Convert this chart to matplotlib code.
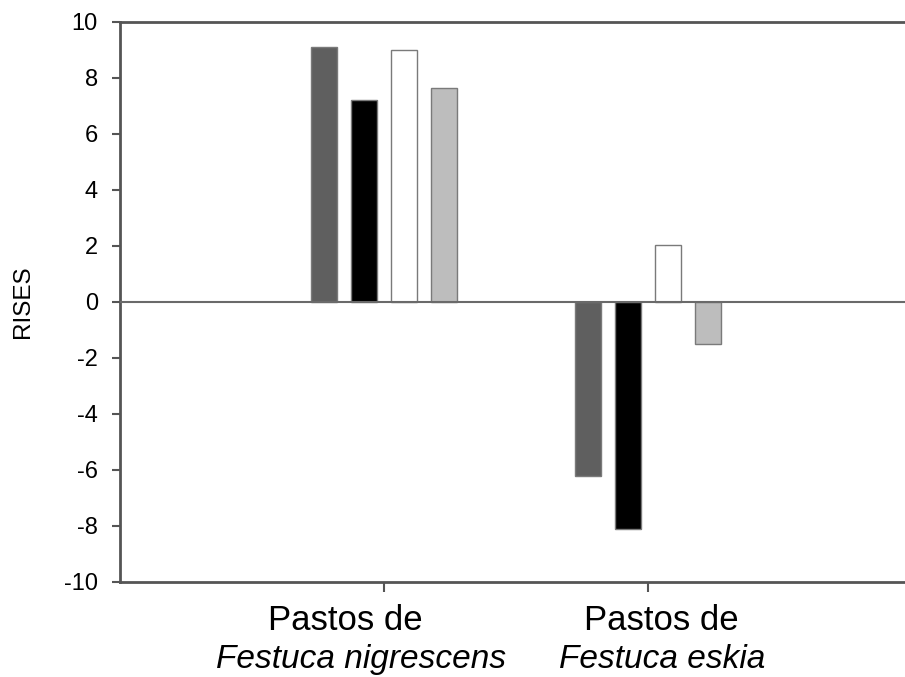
"""Bar chart of RISES for the two Festuca pasture types."""
import matplotlib
matplotlib.use("Agg")
import matplotlib.pyplot as plt
import matplotlib.transforms as mtransforms
import numpy as np

plt.rcParams["font.family"] = ["Liberation Sans", "DejaVu Sans"]
plt.rcParams["axes.unicode_minus"] = False

# Data
groups = ["Festuca nigrescens", "Festuca eskia"]
series_colors = ["#5f5f5f", "#000000", "#ffffff", "#bdbdbd"]
values = [
    [9.12, 7.21, 9.0, 7.65],    # Pastos de Festuca nigrescens
    [-6.2, -8.1, 2.02, -1.5],   # Pastos de Festuca eskia
]
yticks = list(range(-10, 11, 2))

fig = plt.figure(figsize=(9.05, 6.77), dpi=100)
# axes runs a bit past the right edge of the picture, as in the reference
ax = fig.add_axes([120 / 905, 95 / 677, 792 / 905, 560 / 677])

centers = np.array([1.0, 2.0])
bar_w = 0.095
step = 0.1515
offsets = (np.arange(4) - 1.5) * step

for i, col in enumerate(series_colors):
    vals = [v[i] for v in values]
    ax.bar(centers + offsets[i], vals, width=bar_w, color=col,
           edgecolor="#7a7a7a", linewidth=1.0, zorder=2)

ax.axhline(0, color="#6a6a6a", linewidth=1.5, zorder=3)

ax.set_xlim(0, 3)
ax.set_ylim(-10, 10)
ax.set_yticks(yticks)
ax.set_xticks(centers)
ax.set_xticklabels(["", ""])

for side in ["left", "bottom", "top"]:
    ax.spines[side].set_color("#555555")
    ax.spines[side].set_linewidth(2.0)
ax.spines["right"].set_visible(False)

ax.tick_params(axis="y", direction="out", length=6, width=1.5, color="#555555",
               labelsize=17, pad=10)
ax.tick_params(axis="x", direction="out", length=7, width=1.5, color="#555555")

# category labels: the reference places them slightly off the tick centres
trans = mtransforms.blended_transform_factory(ax.transData, ax.transAxes)
label_shift = [(-0.148, -0.088), (0.05, 0.053)]
for c, name, (d1, d2) in zip(centers, groups, label_shift):
    ax.text(c + d1, -0.0857, "Pastos de", transform=trans, ha="center",
            va="baseline", fontsize=25)
    ax.text(c + d2, -0.1536, name, transform=trans, ha="center",
            va="baseline", fontsize=24, style="italic")

fig.text(23 / 905, 1 - 302 / 677, "RISES", rotation=90, ha="center",
         va="center", fontsize=17.5)

fig.savefig("out.png", dpi=100)
